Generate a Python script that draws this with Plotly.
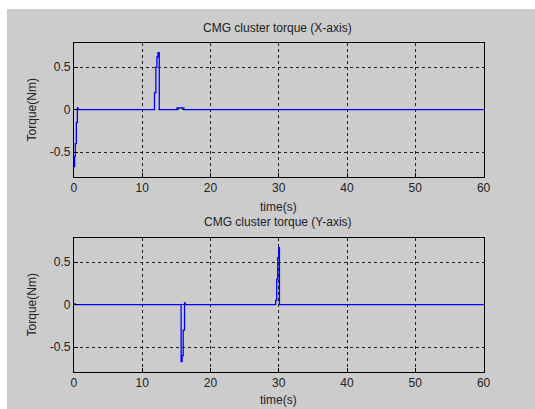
import plotly.graph_objects as go

# Data
t_x = [0.0, 0.1, 0.2, 0.35, 0.5, 0.6, 0.65, 11.8, 12.0, 12.15, 12.3, 12.5, 15.0, 15.1, 16.0, 16.1, 60.0]
tq_x = [-0.67, -0.55, -0.40, -0.15, 0.02, 0.0, 0.0, 0.2, 0.5, 0.62, 0.67, 0.0, 0.0, 0.02, 0.02, 0.0, 0.0]

t_y = [0.0, 0.2, 15.6, 15.7, 15.85, 16.0, 16.2, 16.3, 29.4, 29.55, 29.7, 29.85, 30.0, 30.1, 60.0]
tq_y = [0.01, 0.0, 0.0, -0.67, -0.6, -0.3, 0.02, 0.0, 0.0, 0.05, 0.3, 0.55, 0.67, 0.0, 0.0]

x_ticks = [0, 10, 20, 30, 40, 50, 60]
y_ticks = [-0.5, 0, 0.5]
y_ticktext = ["-0.5", "0", "0.5"]

W, H = 535, 409
fig = go.Figure()
fig.add_trace(go.Scatter(x=t_x, y=tq_x, mode="lines", line=dict(color="#0000ff", width=1.3, shape="hv"),
                         xaxis="x", yaxis="y", showlegend=False))
fig.add_trace(go.Scatter(x=t_y, y=tq_y, mode="lines", line=dict(color="#0000ff", width=1.3, shape="hv"),
                         xaxis="x2", yaxis="y2", showlegend=False))

xd = [72.3 / W, 489.7 / W]
y1d = [1 - 176.7 / H, 1 - 42.7 / H]
y2d = [1 - 371.7 / H, 1 - 237.7 / H]
font = dict(family="Liberation Sans, Arial, sans-serif", size=12, color="#222222")

ax_common = dict(showline=True, mirror=True, linecolor="black", linewidth=1,
                 ticks="inside", ticklen=4, tickcolor="black",
                 showgrid=True, gridcolor="#222222", griddash="3px,3px", gridwidth=1,
                 zeroline=False, tickfont=font)

fig.update_layout(
    width=W, height=H, margin=dict(l=0, r=0, t=0, b=0),
    paper_bgcolor="white", plot_bgcolor="white",
    xaxis=dict(domain=xd, anchor="y", range=[0, 60], tickvals=x_ticks, **ax_common),
    yaxis=dict(domain=y1d, anchor="x", range=[-0.788, 0.788], tickvals=y_ticks, ticktext=y_ticktext, **ax_common),
    xaxis2=dict(domain=xd, anchor="y2", range=[0, 60], tickvals=x_ticks, **ax_common),
    yaxis2=dict(domain=y2d, anchor="x2", range=[-0.788, 0.788], tickvals=y_ticks, ticktext=y_ticktext, **ax_common),
    shapes=[dict(type="rect", xref="paper", yref="paper", x0=4 / W, x1=1.02, y0=-0.02, y1=1 - 9 / H,
                 fillcolor="#cccccc", line=dict(width=0), layer="below")],
)

anns = [
    ("CMG cluster torque (X-axis)", 280, 28, 0),
    ("time(s)", 281, 207, 0),
    ("CMG cluster torque (Y-axis)", 280, 222, 0),
    ("time(s)", 281, 400, 0),
    ("Torque(Nm)", 30, 110, -90),
    ("Torque(Nm)", 30, 305, -90),
]
for text, px, py, ang in anns:
    fig.add_annotation(text=text, xref="paper", yref="paper", x=px / W, y=1 - py / H,
                       showarrow=False, textangle=ang, font=font, xanchor="center", yanchor="middle")

fig.write_html("out.html")
